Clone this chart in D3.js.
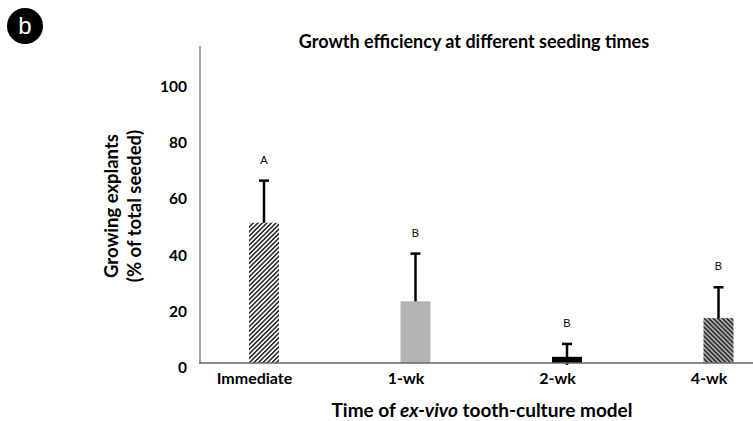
<!DOCTYPE html>
<html><head><meta charset="utf-8">
<script src="https://cdn.jsdelivr.net/npm/d3@7"></script>
<style>body{margin:0;background:#fff}svg{display:block}</style>
</head><body>
<svg id="chart" width="753" height="421"></svg>
<script>
const categories = ["Immediate", "1-wk", "2-wk", "4-wk"];
const values = [50, 22, 2.2, 16];
const errors = [15, 17, 4.6, 11];
const letters = ["A", "B", "B", "B"];
const yTicks = [0, 20, 40, 60, 80, 100];
const fills = ["url(#hatchA)", "#b3b3b3", "#000000", "url(#hatchD)"];

const svg = d3.select("#chart");
const font = "Lato, 'Open Sans', 'Liberation Sans', sans-serif";

const defs = svg.append("defs");
const pA = defs.append("pattern").attr("id", "hatchA").attr("patternUnits", "userSpaceOnUse")
  .attr("width", 3.2).attr("height", 3.2).attr("patternTransform", "rotate(45)");
pA.append("rect").attr("width", 3.2).attr("height", 3.2).attr("fill", "#fff");
pA.append("rect").attr("width", 1.5).attr("height", 3.2).attr("fill", "#222");
const pD = defs.append("pattern").attr("id", "hatchD").attr("patternUnits", "userSpaceOnUse")
  .attr("width", 3.2).attr("height", 3.2).attr("patternTransform", "rotate(-45)");
pD.append("rect").attr("width", 3.2).attr("height", 3.2).attr("fill", "#bbb");
pD.append("rect").attr("width", 1.8).attr("height", 3.2).attr("fill", "#333");

const x = d3.scalePoint().domain(categories).range([264, 718.5]);
const y = d3.scaleLinear().domain([0, 113]).range([363, 46]);
const barW = 30;

// badge
svg.append("circle").attr("cx", 25).attr("cy", 26).attr("r", 18).attr("fill", "#000");
svg.append("text").attr("x", 25).attr("y", 34).attr("text-anchor", "middle")
  .attr("fill", "#fff").attr("font-family", "'Liberation Sans', Arial, sans-serif")
  .attr("font-size", 24).text("b");

// title
svg.append("text").attr("x", 474).attr("y", 48).attr("text-anchor", "middle")
  .attr("font-family", font).attr("font-weight", "bold").attr("font-size", 18)
  .text("Growth efficiency at different seeding times");

// error bars (drawn under bars)
const eg = svg.append("g");
categories.forEach((c, i) => {
  const cx = x(c);
  eg.append("line").attr("x1", cx).attr("x2", cx)
    .attr("y1", y(Math.max(0, values[i] - errors[i])) + (values[i] - errors[i] < 0 ? 2 : 0))
    .attr("y2", y(values[i] + errors[i]))
    .attr("stroke", "#000").attr("stroke-width", 2.5);
  eg.append("line").attr("x1", cx - 5).attr("x2", cx + 5)
    .attr("y1", y(values[i] + errors[i])).attr("y2", y(values[i] + errors[i]))
    .attr("stroke", "#000").attr("stroke-width", 2.5);
});

// bars
svg.append("g").selectAll("rect").data(categories).join("rect")
  .attr("x", d => x(d) - barW / 2).attr("width", barW)
  .attr("y", (d, i) => y(values[i])).attr("height", (d, i) => y(0) - y(values[i]))
  .attr("fill", (d, i) => fills[i]);

// significance letters
svg.append("g").selectAll("text").data(categories).join("text")
  .attr("x", d => x(d)).attr("y", (d, i) => y(values[i] + errors[i]) - 17)
  .attr("text-anchor", "middle").attr("font-family", "'Liberation Sans', Arial, sans-serif")
  .attr("font-size", 11).text((d, i) => letters[i]);

// axes lines
svg.append("line").attr("x1", 200).attr("x2", 200).attr("y1", y(113)).attr("y2", y(0))
  .attr("stroke", "#888").attr("stroke-width", 1.5);
svg.append("line").attr("x1", 199).attr("x2", 753).attr("y1", y(0)).attr("y2", y(0))
  .attr("stroke", "#666").attr("stroke-width", 1.5);

// y axis ticks
const ya = svg.append("g").attr("transform", "translate(187,0)")
  .call(d3.axisLeft(y).tickValues(yTicks).tickSize(0).tickPadding(0));
ya.select(".domain").remove();
ya.selectAll("text").attr("font-family", font).attr("font-weight", "bold")
  .attr("font-size", 15.5).attr("fill", "#000").attr("dy", "0.6em");

// x axis labels
const xa = svg.append("g").attr("transform", "translate(-10,373)")
  .call(d3.axisBottom(x).tickSize(0).tickPadding(0));
xa.select(".domain").remove();
xa.selectAll("text").attr("font-family", font).attr("font-weight", "bold")
  .attr("font-size", 16).attr("fill", "#000");

// axis titles
const xt = svg.append("text").attr("x", 482).attr("y", 417).attr("text-anchor", "middle")
  .attr("font-family", font).attr("font-weight", "bold").attr("font-size", 19);
xt.append("tspan").text("Time of ");
xt.append("tspan").attr("font-style", "italic").text("ex-vivo");
xt.append("tspan").text(" tooth-culture model");

const yt = svg.append("text").attr("transform", "translate(0,206) rotate(-90)")
  .attr("text-anchor", "middle").attr("font-family", font).attr("font-weight", "bold")
  .attr("font-size", 18.5);
yt.append("tspan").attr("x", 0).attr("y", 118).text("Growing explants");
yt.append("tspan").attr("x", 0).attr("y", 141).text("(% of total seeded)");
</script>
</body></html>
